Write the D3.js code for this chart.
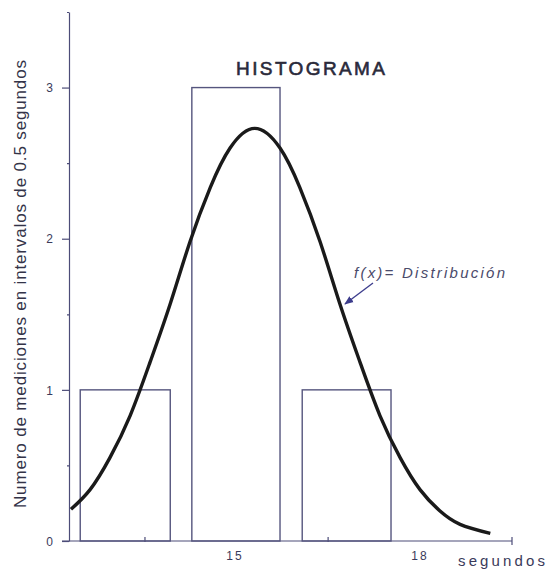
<!DOCTYPE html>
<html lang="es">
<head>
    <meta charset="UTF-8">
    <title>Histograma</title>
    <script src="https://d3js.org/d3.v7.min.js"></script>
    <style>
        body {
            margin: 0;
            background: #fff;
            font-family: "Liberation Sans", Arial, sans-serif;
        }
        .axis path, .axis line {
            stroke: #4c4c78;
            stroke-width: 1.2px;
        }
        .axis text {
            font: 12px "Liberation Sans", Arial, sans-serif;
            fill: #3a3a5a;
        }
        .bar {
            fill: none;
            stroke: #55557e;
            stroke-width: 1.4px;
        }
        .curve {
            fill: none;
            stroke: #1a1a1a;
            stroke-width: 3.4px;
        }
    </style>
</head>
<body>
    <svg id="chart" width="546" height="570"></svg>

    <script>
        // bars: intervals (seconds) and counts
        const binStart = [12.49, 14.30, 16.09];
        const binEnd   = [13.95, 15.73, 17.53];
        const counts   = [1, 3, 1];

        // distribution curve
        const curveX = [12.34, 12.65, 12.97, 13.30, 13.62, 13.95, 14.27, 14.60, 14.92, 15.32,
                        15.73, 16.05, 16.38, 16.70, 17.03, 17.35, 17.68, 18.0, 18.32, 18.65, 19.14];
        const curveY = [0.21, 0.34, 0.55, 0.83, 1.18, 1.57, 1.98, 2.34, 2.60, 2.73,
                        2.60, 2.34, 1.98, 1.57, 1.18, 0.83, 0.55, 0.34, 0.20, 0.11, 0.05];

        // axis ticks and labels
        const yTicks = [0, 1, 2, 3];
        const yMinor = [0.5, 1.5, 2.5, 3.5];
        const xTickMarks = [13.54, 16.51];
        const xLabels = ["15", "18"];
        const xLabelPos = [15, 18];

        const svg = d3.select("#chart");

        const x = d3.scaleLinear().domain([12.308, 19.492]).range([69, 512]);
        const y = d3.scaleLinear().domain([0, 3.5]).range([541, 12]);

        // y axis
        svg.append("g")
            .attr("class", "axis")
            .attr("transform", "translate(69,0)")
            .call(d3.axisLeft(y).tickValues(yTicks).tickSize(7).tickSizeOuter(0).tickFormat(d3.format("d")))
            .call(g => g.selectAll(".tick text").attr("dy", "0.35em").attr("x", -16));

        svg.append("g")
            .attr("class", "axis")
            .attr("transform", "translate(69,0)")
            .call(d3.axisLeft(y).tickValues(yMinor).tickSize(2).tickSizeOuter(0).tickFormat(""))
            .call(g => g.select(".domain").remove());

        // x axis
        svg.append("line")
            .attr("x1", 62).attr("x2", x.range()[1])
            .attr("y1", y(0)).attr("y2", y(0))
            .attr("stroke", "#4c4c78").attr("stroke-width", 1.2);

        svg.selectAll(".xtick")
            .data(xTickMarks)
            .enter().append("line")
            .attr("class", "xtick")
            .attr("x1", d => x(d)).attr("x2", d => x(d))
            .attr("y1", y(0) - 4).attr("y2", y(0) + 1)
            .attr("stroke", "#4c4c78").attr("stroke-width", 1.2);

        svg.append("line")
            .attr("x1", x.range()[1]).attr("x2", x.range()[1])
            .attr("y1", y(0) - 4).attr("y2", y(0) + 4)
            .attr("stroke", "#4c4c78").attr("stroke-width", 1.2);

        svg.selectAll(".xlabel")
            .data(xLabels)
            .enter().append("text")
            .attr("class", "xlabel")
            .attr("x", (d, i) => x(xLabelPos[i]))
            .attr("y", y(0) + 19)
            .attr("text-anchor", "middle")
            .attr("letter-spacing", "2px")
            .style("font-size", "12px")
            .style("fill", "#3a3a5a")
            .text(d => d);

        svg.append("text")
            .attr("x", 458)
            .attr("y", 566)
            .attr("textLength", 87)
            .style("font-size", "15px")
            .style("fill", "#3a3a5a")
            .text("segundos");

        // bars
        svg.selectAll(".bar")
            .data(counts)
            .enter().append("rect")
            .attr("class", "bar")
            .attr("x", (d, i) => x(binStart[i]))
            .attr("y", d => y(d))
            .attr("width", (d, i) => x(binEnd[i]) - x(binStart[i]))
            .attr("height", d => y(0) - y(d));

        // curve
        const line = d3.line()
            .x(d => x(d[0]))
            .y(d => y(d[1]))
            .curve(d3.curveNatural);

        svg.append("path")
            .attr("class", "curve")
            .attr("d", line(d3.zip(curveX, curveY)));

        // title
        svg.append("text")
            .attr("x", 236)
            .attr("y", 75)
            .attr("textLength", 149)
            .style("font-size", "19px")
            .style("fill", "#2a2a3a")
            .style("stroke", "#2a2a3a")
            .style("stroke-width", "0.6px")
            .text("HISTOGRAMA");

        // y label
        svg.append("text")
            .attr("transform", "translate(26,284) rotate(-90)")
            .attr("text-anchor", "middle")
            .attr("textLength", 448)
            .style("font-size", "17px")
            .style("fill", "#333348")
            .text("Numero de mediciones en intervalos de 0.5 segundos");

        // annotation
        svg.append("defs").append("marker")
            .attr("id", "arrow")
            .attr("viewBox", "0 0 10 10")
            .attr("refX", 9).attr("refY", 5)
            .attr("markerWidth", 7).attr("markerHeight", 7)
            .attr("orient", "auto")
            .append("path")
            .attr("d", "M0,1 L10,5 L0,9 Z")
            .attr("fill", "#3c3c8c");

        svg.append("line")
            .attr("x1", 373).attr("y1", 283)
            .attr("x2", 345).attr("y2", 304)
            .attr("stroke", "#3c3c8c").attr("stroke-width", 1.3)
            .attr("marker-end", "url(#arrow)");

        svg.append("text")
            .attr("x", 354)
            .attr("y", 278)
            .attr("textLength", 151)
            .style("font-size", "15px")
            .style("font-style", "italic")
            .style("fill", "#4a4a6a")
            .text("f(x)= Distribución");
    </script>
</body>
</html>
